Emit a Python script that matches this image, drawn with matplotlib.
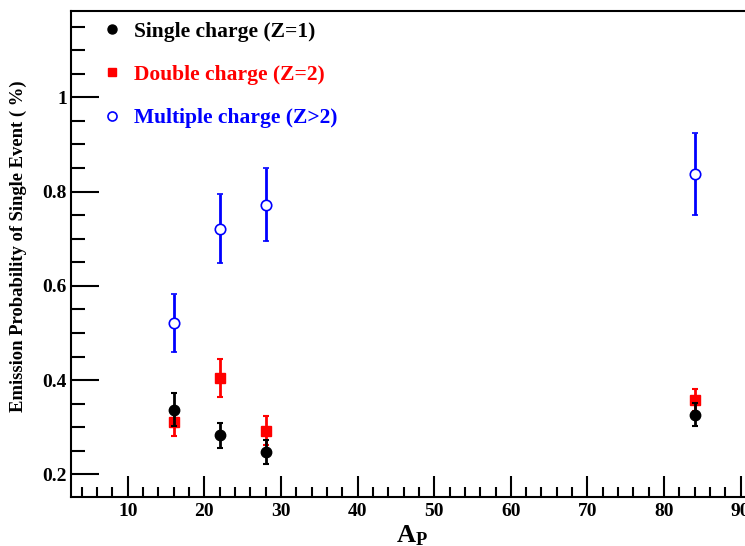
import matplotlib
matplotlib.use("Agg")
import matplotlib.pyplot as plt
from matplotlib.lines import Line2D
from matplotlib.ticker import MultipleLocator

plt.rcParams['font.family'] = ['Liberation Serif', 'DejaVu Serif']
plt.rcParams['font.weight'] = 'bold'
plt.rcParams['mathtext.fontset'] = 'custom'
plt.rcParams['mathtext.rm'] = 'Liberation Serif:bold'
plt.rcParams['mathtext.bf'] = 'Liberation Serif:bold'
plt.rcParams['mathtext.it'] = 'Liberation Serif:bold'

# projectile mass numbers
ap = [16, 22, 28, 84]

# emission probabilities and errors per charge class
single_val = [0.337, 0.283, 0.247, 0.327]
single_err = [0.035, 0.027, 0.025, 0.024]
double_val = [0.312, 0.405, 0.293, 0.358]
double_err = [0.031, 0.040, 0.031, 0.023]
multi_val = [0.521, 0.721, 0.772, 0.837]
multi_err = [0.061, 0.073, 0.077, 0.087]

labels = ["Single charge (Z=1)", "Double charge (Z=2)", "Multiple charge (Z>2)"]
colors = ["black", "#ff0000", "#0000ff"]

fig = plt.figure(figsize=(7.45, 5.46), dpi=100)
ax = fig.add_axes([0.0953, 0.0897, 0.9154, 0.8902])

ax.errorbar(ap, single_val, yerr=single_err, fmt='o', color=colors[0],
            ms=7.5, elinewidth=2, capsize=2, capthick=1.5, zorder=3)
ax.errorbar(ap, double_val, yerr=double_err, fmt='s', color=colors[1],
            ms=7, elinewidth=2, capsize=2, capthick=1.5, zorder=2)
ax.errorbar(ap, multi_val, yerr=multi_err, fmt='o', color=colors[2], mfc='white',
            ms=7.5, mew=1.2, elinewidth=2, capsize=2, capthick=1.5, zorder=2)

ax.set_xlim(2.6, 91.6)
ax.set_ylim(0.152, 1.183)

ax.xaxis.set_major_locator(MultipleLocator(10))
ax.xaxis.set_minor_locator(MultipleLocator(2))
ax.yaxis.set_major_locator(MultipleLocator(0.2))
ax.yaxis.set_minor_locator(MultipleLocator(0.05))
ax.tick_params(which='both', direction='in', width=1.5, labelsize=14)
ax.tick_params(axis='y', which='major', length=20, pad=3)
ax.tick_params(axis='y', which='minor', length=10)
ax.tick_params(axis='x', which='major', length=15, pad=4)
ax.tick_params(axis='x', which='minor', length=7)
ax.yaxis.set_major_formatter(plt.FuncFormatter(lambda v, p: f"{v:g}"))
for s in ax.spines.values():
    s.set_linewidth(1.5)

ax.set_ylabel("Emission Probability of Single Event ( %)", fontsize=13.4,
              fontweight='bold')
ax.yaxis.set_label_coords(-0.064, 0.516)
ax.set_xlabel(r"$\mathrm{A_P}$", fontsize=19)
ax.xaxis.set_label_coords(0.5, -0.0535)

handles = [
    Line2D([], [], ls='none', marker='o', color=colors[0], ms=6.5),
    Line2D([], [], ls='none', marker='s', color=colors[1], ms=6),
    Line2D([], [], ls='none', marker='o', color=colors[2], mfc='white', ms=6.5, mew=1.2),
]
leg = ax.legend(handles, labels, loc='upper left', bbox_to_anchor=(0.032, 0.996),
                frameon=False, handlelength=1.0, handletextpad=0.5,
                labelspacing=1.08, borderaxespad=0.0,
                prop={'weight': 'bold', 'size': 15.5})
for t, c in zip(leg.get_texts(), colors):
    t.set_color(c)

fig.savefig("out.png", dpi=100)
